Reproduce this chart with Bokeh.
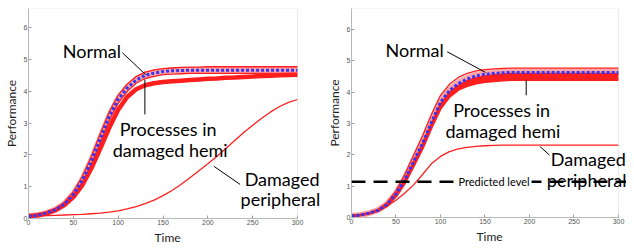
from bokeh.plotting import figure
from bokeh.layouts import row
from bokeh.models import Label, Span, FixedTicker, Range1d, BoxAnnotation, Title
from bokeh.embed import file_html
from bokeh.resources import INLINE

# ---------------- data ----------------
t = list(range(0, 301, 10))
x_ticks = [0, 50, 100, 150, 200, 250, 300]
y_ticks = [0, 1, 2, 3, 4, 5, 6]

# left panel
normal_l = [0.07, 0.10, 0.17, 0.28, 0.45, 0.75, 1.20, 1.80, 2.50, 3.20, 3.75, 4.10, 4.35, 4.50, 4.57, 4.62,
            4.64, 4.65] + [4.66] * 13
hemi_mid_l = [0.07, 0.10, 0.17, 0.28, 0.46, 0.77, 1.22, 1.83, 2.53, 3.22, 3.77, 4.12, 4.37, 4.51, 4.58, 4.63,
              4.65, 4.66] + [4.67] * 13
hemi_hi_l = [0.08, 0.11, 0.19, 0.31, 0.51, 0.84, 1.32, 1.95, 2.66, 3.35, 3.88, 4.22, 4.46, 4.60, 4.67, 4.71,
             4.73, 4.75, 4.76, 4.76] + [4.77] * 11
hemi_lo_l = [0.06, 0.09, 0.15, 0.25, 0.41, 0.69, 1.12, 1.70, 2.38, 3.08, 3.63, 3.99, 4.25, 4.40, 4.47, 4.52,
             4.54, 4.55] + [4.56] * 13
hemi_low_l = [0.07, 0.10, 0.16, 0.26, 0.42, 0.67, 1.05, 1.57, 2.20, 2.85, 3.42, 3.82, 4.06, 4.19, 4.25, 4.29,
              4.31, 4.33, 4.35, 4.37, 4.39, 4.40, 4.42, 4.43, 4.45, 4.46, 4.48, 4.49, 4.50, 4.51, 4.52]
periph_l = [0.07, 0.08, 0.09, 0.10, 0.11, 0.12, 0.13, 0.15, 0.17, 0.20, 0.24, 0.30, 0.37, 0.47, 0.58, 0.72,
            0.88, 1.07, 1.28, 1.50, 1.72, 1.95, 2.20, 2.45, 2.70, 2.93, 3.15, 3.35, 3.52, 3.65, 3.74]

# right panel
normal_r = [0.05, 0.08, 0.14, 0.23, 0.42, 0.75, 1.22, 1.80, 2.38, 3.05, 3.68, 4.05, 4.27, 4.42, 4.52, 4.57,
            4.60, 4.62] + [4.63] * 13
hemi_mid_r = [0.05, 0.08, 0.14, 0.24, 0.43, 0.77, 1.25, 1.84, 2.43, 3.10, 3.72, 4.08, 4.30, 4.45, 4.55, 4.60,
              4.63, 4.65] + [4.66] * 13
hemi_hi_r = [0.06, 0.09, 0.15, 0.26, 0.48, 0.85, 1.38, 2.00, 2.62, 3.30, 3.90, 4.25, 4.47, 4.60, 4.68, 4.72,
             4.74, 4.76] + [4.77] * 13
band_top_r = [0.05, 0.08, 0.14, 0.23, 0.41, 0.73, 1.18, 1.75, 2.32, 2.98, 3.60, 3.98, 4.20, 4.35, 4.45, 4.50,
              4.54, 4.56] + [4.58] * 13
band_bot_r = [0.05, 0.08, 0.13, 0.22, 0.38, 0.68, 1.10, 1.65, 2.22, 2.88, 3.48, 3.85, 4.08, 4.20, 4.28, 4.33,
              4.36, 4.38] + [4.40] * 13
periph_r = [0.05, 0.08, 0.14, 0.22, 0.36, 0.55, 0.78, 1.05, 1.38, 1.72, 1.95, 2.10, 2.19, 2.24, 2.27, 2.29,
            2.30, 2.31, 2.31, 2.31] + [2.31] * 11
predicted_level = 1.14

# annotations (text, x, y) and leader lines (x0, y0, x1, y1)
labels_l = [("Normal", 38.2, 5.25), ("Processes in", 101.7, 2.81), ("damaged hemi", 93.9, 2.16),
            ("Damaged", 241.0, 1.23), ("peripheral", 236.5, 0.60)]
leaders_l = ([104.7, 129.8, 206.8], [5.21, 4.37, 1.64], [130.7, 129.8, 236.0], [4.52, 3.27, 1.07])
labels_r = [("Normal", 38.2, 5.34), ("Processes in", 114.3, 3.42), ("damaged hemi", 105.6, 2.77),
            ("Damaged", 224.0, 1.86), ("peripheral", 219.5, 1.19)]
leaders_r = ([107.5, 196.3, 212.0], [5.29, 4.38, 2.26], [150.6, 196.3, 222.5], [4.63, 3.90, 1.99])

RED = "#ff1e1e"
BLUE = "#3535f5"
FONT = "Lato"
GRAY = "#b8b8b8"


def make_fig(x_end, y_max, fw, fh, bl, br, bt, time_offset):
    p = figure(frame_width=fw, frame_height=fh, x_range=Range1d(0, x_end), y_range=Range1d(0, y_max),
               output_backend="svg", toolbar_location=None,
               min_border_left=bl, min_border_right=br, min_border_top=bt, min_border_bottom=0)
    p.grid.visible = False
    p.outline_line_color = None
    p.background_fill_color = "white"
    p.border_fill_color = "white"
    p.xaxis.ticker = FixedTicker(ticks=x_ticks)
    p.yaxis.ticker = FixedTicker(ticks=y_ticks)
    p.xaxis.bounds = (0, 300)
    for ax in (p.xaxis[0], p.yaxis[0]):
        ax.axis_line_color = GRAY
        ax.major_tick_line_color = "#a0a0a0"
        ax.major_tick_in = 3
        ax.major_tick_out = 0
        ax.minor_tick_line_color = None
        ax.major_label_text_font = "Liberation Sans"
        ax.major_label_text_font_size = "7px"
        ax.major_label_text_color = "#555555"
        ax.major_label_standoff = 1
        ax.axis_label_text_font = FONT
        ax.axis_label_text_font_style = "normal"
        ax.axis_label_text_color = "#222222"
    p.yaxis.axis_label = "Performance"
    p.yaxis.axis_label_text_font_size = "12px"
    p.yaxis.axis_label_standoff = 2
    p.add_layout(Title(text="Time", align="left", offset=time_offset, standoff=0,
                       text_font=FONT, text_font_size="12px", text_font_style="normal",
                       text_color="#222222"), "below")
    # MATLAB-style box around the 0..300 data area
    p.add_layout(BoxAnnotation(left=0, right=300, bottom=0, top=y_max, fill_alpha=0,
                               line_color=GRAY, line_width=1.2))
    return p


def add_labels(p, labels, leaders):
    x0, y0, x1, y1 = leaders
    p.segment(x0=x0, y0=y0, x1=x1, y1=y1, line_color="black", line_width=1)
    for txt, x, y in labels:
        p.add_layout(Label(x=x, y=y, text=txt, text_font=FONT, text_font_size="18px",
                           text_color="black", text_baseline="alphabetic", text_align="left"))


# ---------------- left panel ----------------
p1 = make_fig(325.6, 6.6, 292, 210, 20, 0, 7, 126)
p1.line(t, periph_l, line_color=RED, line_width=1.3)
p1.line(t, hemi_mid_l, line_color=RED, line_width=6, line_alpha=0.4)
p1.line(t, hemi_hi_l, line_color=RED, line_width=1.3)
p1.line(t, hemi_lo_l, line_color=RED, line_width=1.3)
p1.line(t, hemi_low_l, line_color=RED, line_width=4.5)
p1.line(t, normal_l, line_color=BLUE, line_width=3, line_dash="3 2")
add_labels(p1, labels_l, leaders_l)

# ---------------- right panel ----------------
p2 = make_fig(309.0, 6.67, 275, 209, 31, 0, 8, 125)
p2.line(t, periph_r, line_color=RED, line_width=1.3)
p2.line(t, hemi_mid_r, line_color=RED, line_width=6, line_alpha=0.4)
p2.line(t, hemi_hi_r, line_color=RED, line_width=1.3)
p2.varea(x=t, y1=band_bot_r, y2=band_top_r, fill_color=RED)
p2.line(t, band_top_r, line_color=RED, line_width=2.5)
p2.line(t, band_bot_r, line_color=RED, line_width=2.5)
p2.line(t, normal_r, line_color=BLUE, line_width=3, line_dash="3 2")
p2.add_layout(Span(location=predicted_level, dimension="width", line_color="black",
                   line_width=2.5, line_dash="14 8"))
p2.add_layout(Label(x=118, y=predicted_level, text="Predicted level", text_font=FONT,
                    text_font_size="11px", text_color="black", text_baseline="middle",
                    text_align="left", background_fill_color="white", padding=2))
add_labels(p2, labels_r, leaders_r)

layout = row(p1, p2)
open("out.html", "w").write(file_html(layout, INLINE))
